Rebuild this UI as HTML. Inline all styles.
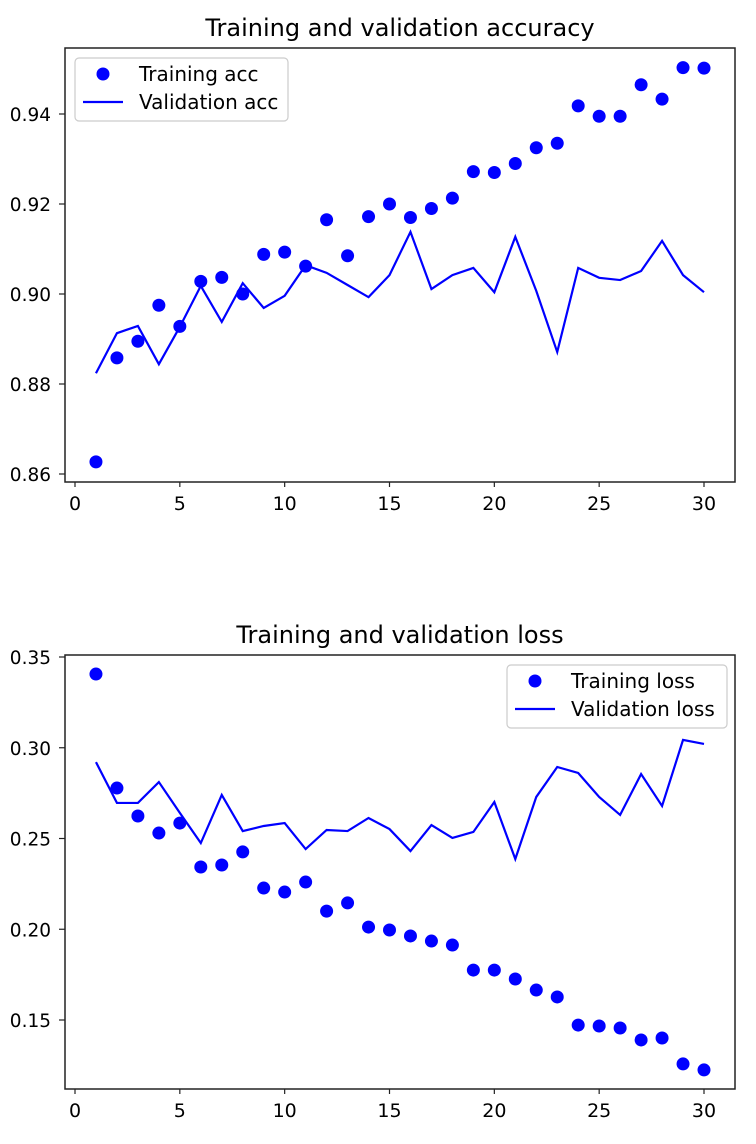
<!DOCTYPE html>
<html><head><meta charset="utf-8">
<style>
html,body{margin:0;padding:0;background:#fff;}
svg{display:block;font-family:"DejaVu Sans","Liberation Sans",sans-serif;}
</style></head>
<body>
<svg id="c" width="756" height="1144" viewBox="0 0 756 1144" xmlns="http://www.w3.org/2000/svg"></svg>
<script>
const epochs=[1,2,3,4,5,6,7,8,9,10,11,12,13,14,15,16,17,18,19,20,21,22,23,24,25,26,27,28,29,30];
const trainAcc=[0.8627,0.8858,0.8895,0.8975,0.8928,0.9028,0.9037,0.9,0.9088,0.9093,0.9062,0.9165,0.9085,0.9172,0.92,0.917,0.919,0.9213,0.9272,0.927,0.929,0.9325,0.9335,0.9418,0.9395,0.9395,0.9465,0.9433,0.9503,0.9502];
const valAcc=[0.8824,0.8913,0.8929,0.8844,0.8927,0.9018,0.8938,0.9024,0.8969,0.8996,0.9064,0.9047,0.902,0.8993,0.9042,0.9138,0.9011,0.9042,0.9058,0.9004,0.9127,0.9007,0.8871,0.9058,0.9036,0.9031,0.9051,0.9118,0.9042,0.9004];
const trainLoss=[0.3406,0.2778,0.2624,0.253,0.2585,0.2343,0.2354,0.2426,0.2227,0.2205,0.226,0.21,0.2145,0.2012,0.1996,0.1963,0.1935,0.1913,0.1775,0.1775,0.1726,0.1665,0.1627,0.1472,0.1467,0.1456,0.139,0.1401,0.1258,0.1225];
const valLoss=[0.2921,0.2696,0.2696,0.2811,0.2641,0.2475,0.274,0.2541,0.2569,0.2585,0.2442,0.2547,0.2541,0.2613,0.2552,0.2431,0.2574,0.2503,0.2536,0.2701,0.2387,0.2729,0.2894,0.2861,0.2729,0.263,0.2855,0.2679,0.3043,0.3021];
const xTicks=[0,5,10,15,20,25,30];
const accTicks=[0.86,0.88,0.90,0.92,0.94];
const lossTicks=[0.15,0.20,0.25,0.30,0.35];

const NS="http://www.w3.org/2000/svg";
const svg=document.getElementById('c');
function mk(tag,attrs,parent){const e=document.createElementNS(NS,tag);for(const k in attrs)e.setAttribute(k,attrs[k]);(parent||svg).appendChild(e);return e;}
const xs=v=>75+(704-75)*v/30;

function panel(pre,box,yScale,yTicks,fmt,title,tr,va,trName,vaName,leg){
  const g=mk('g',{});
  
  
  const t=mk('text',{x:400,y:box.y0-12,'font-size':24,'text-anchor':'middle',fill:'#000'},g);
  t.textContent=title;
  
  
  xTicks.forEach(v=>{const x=xs(v);mk('line',{x1:x,x2:x,y1:box.y1,y2:box.y1+5,stroke:'#222','stroke-width':1.2},g);
    const l=mk('text',{x:x,y:box.y1+28,'font-size':19,'text-anchor':'middle'},g);l.textContent=v;
    
    });
  yTicks.forEach(v=>{const y=yScale(v);mk('line',{x1:box.x0-6,x2:box.x0,y1:y,y2:y,stroke:'#222','stroke-width':1.2},g);
    const l=mk('text',{x:box.x0-14,y:y+7,'font-size':18.5,'text-anchor':'end'},g);l.textContent=fmt(v);
    
    });
  const pts=epochs.map((e,i)=>xs(e)+','+yScale(va[i])).join(' ');
  const pl=mk('polyline',{points:pts,fill:'none',stroke:'#0000ff','stroke-width':2.2},g);
  
  
  epochs.forEach((e,i)=>{const c=mk('circle',{cx:xs(e),cy:yScale(tr[i]),r:6.5,fill:'#0000ff'},g);
    
    });
  const f=mk('rect',{x:box.x0,y:box.y0,width:box.x1-box.x0,height:box.y1-box.y0,fill:'none',stroke:'#222','stroke-width':1.5},g);
  
  
  const lg=mk('g',{},g);
  
  
  mk('rect',{x:leg.x,y:leg.y,width:leg.w,height:63,rx:4,fill:'#fff','fill-opacity':0.8,stroke:'#ccc','stroke-width':1.2},lg);
  mk('circle',{cx:leg.x+28,cy:leg.y+16,r:6.5,fill:'#0000ff'},lg);
  mk('line',{x1:leg.x+8,x2:leg.x+48,y1:leg.y+44,y2:leg.y+44,stroke:'#0000ff','stroke-width':2.2},lg);
  const a=mk('text',{x:leg.x+64,y:leg.y+23,'font-size':20},lg);a.textContent=trName;
  
  
  const b=mk('text',{x:leg.x+64,y:leg.y+51,'font-size':20},lg);b.textContent=vaName;
  
  
}
const accY=v=>474-(v-0.86)*4500;
panel('accuracy',{x0:65,x1:735,y0:48,y1:482},accY,accTicks,v=>v.toFixed(2),'Training and validation accuracy',trainAcc,valAcc,'Training acc','Validation acc',{x:75,y:58,w:213});
const lossY=v=>657+(0.35-v)*1815;
panel('loss',{x0:65,x1:735,y0:655,y1:1089},lossY,lossTicks,v=>v.toFixed(2),'Training and validation loss',trainLoss,valLoss,'Training loss','Validation loss',{x:507,y:665,w:220});
</script>
</body></html>
